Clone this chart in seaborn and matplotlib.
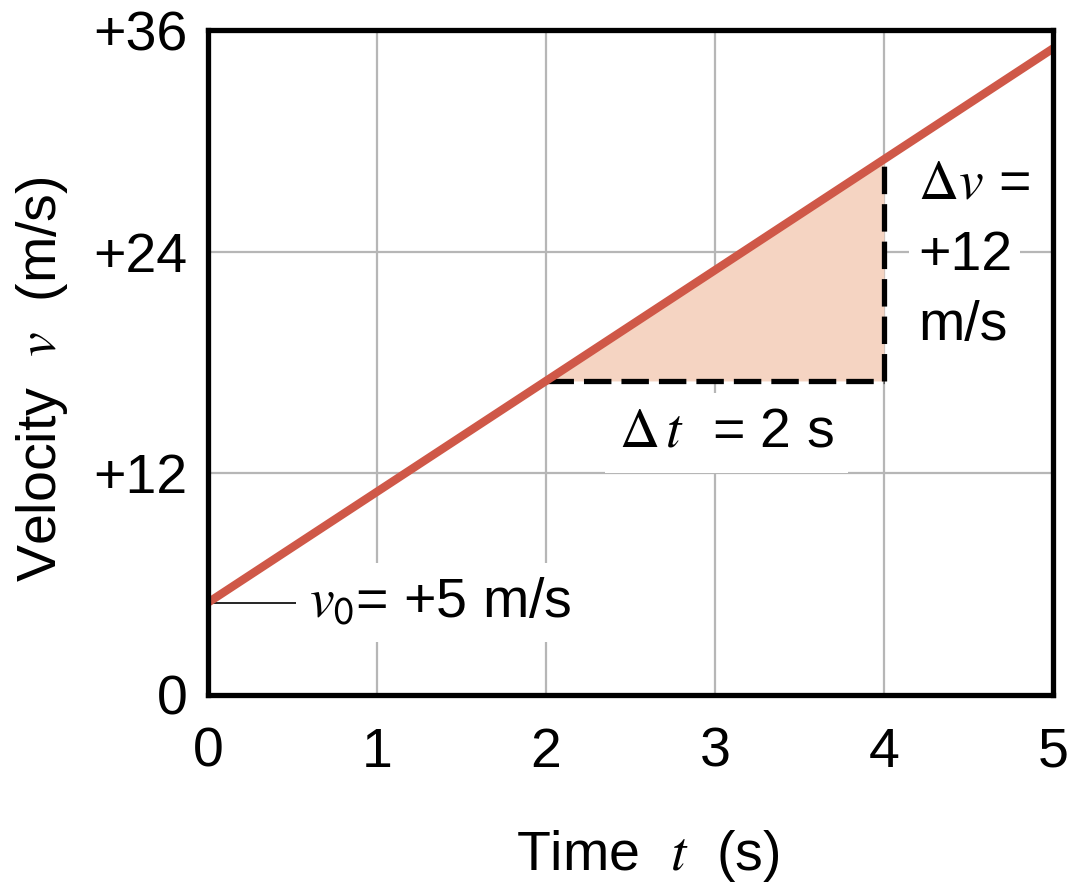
import matplotlib
matplotlib.use("Agg")
import matplotlib.pyplot as plt
import seaborn as sns

# Velocity–time data: v = v0 + a t with v0 = +5 m/s
time_s = [0, 5]
velocity_ms = [5, 35]

# Interval used to show the slope (acceleration)
interval_t = [2, 4]
interval_v = [17, 29]

x_ticks = [0, 1, 2, 3, 4, 5]
y_ticks = [0, 12, 24, 36]
y_tick_labels = ["0", "+12", "+24", "+36"]

line_color = "#cf5848"
fill_color = "#f5d4c2"
grid_color = "#b6b6b6"
FS = 40

sns.set_theme(style="white")
plt.rcParams["font.family"] = ["Liberation Sans", "DejaVu Sans"]
plt.rcParams["mathtext.fontset"] = "stix"
plt.rcParams["text.color"] = "black"
plt.rcParams["axes.labelcolor"] = "black"

fig = plt.figure(figsize=(10.71, 8.88), dpi=100)
ax = fig.add_axes([0.1942, 0.2174, 0.789, 0.7488])

# grid underneath everything
ax.set_axisbelow(True)
ax.grid(True, color=grid_color, linewidth=1.6)

# shaded triangle between the line and the horizontal leg
ax.fill_between(interval_t, [interval_v[0], interval_v[0]], interval_v,
                color=fill_color, linewidth=0, zorder=2)

# dashed legs of the triangle
ax.plot(interval_t, [interval_v[0], interval_v[0]], color="black", lw=3.8,
        dashes=(5.2, 1.9), zorder=3)
ax.plot([interval_t[1], interval_t[1]], interval_v, color="black", lw=3.8,
        dashes=(5.2, 1.9), zorder=3)

# velocity line
sns.lineplot(x=time_s, y=velocity_ms, ax=ax, color=line_color, linewidth=6,
             zorder=4)

ax.set_xlim(0, 5)
ax.set_ylim(0, 36)
ax.set_xticks(x_ticks)
ax.set_yticks(y_ticks)
ax.set_yticklabels(y_tick_labels)
ax.tick_params(axis="both", length=0, labelsize=FS, colors="black")
ax.tick_params(axis="x", pad=23)
ax.tick_params(axis="y", pad=15)

for sp in ax.spines.values():
    sp.set_visible(True)
    sp.set_color("black")
    sp.set_linewidth(3.8)
    sp.set_zorder(6)

ax.set_xlabel("Time  $t$  (s)", fontsize=FS)
ax.set_ylabel("Velocity  $v$  (m/s)", fontsize=FS)
ax.yaxis.set_label_coords(-0.163, 0.475)
ax.xaxis.set_label_coords(0.52, -0.2)

box = dict(boxstyle="square,pad=0.25", facecolor="white", edgecolor="none")

# initial velocity annotation with leader line
ax.plot([0, 0.53], [velocity_ms[0], velocity_ms[0]], color="black", lw=1.2,
        zorder=3)
ax.text(0.6, velocity_ms[0], r"$v_{\mathsf{0}}$= +5 m/s", fontsize=FS,
        ha="left", va="center", bbox=box, zorder=5)

# interval labels
ax.text(3.07, 14.2, r"$\Delta\,t$  = 2 s", fontsize=FS, ha="center",
        va="center", bbox=box, zorder=5)

ax.text(4.2, 26.9, r"$\Delta v$ =", fontsize=FS, ha="left", va="baseline",
        zorder=5)
ax.text(4.2, 23.0, "+12", fontsize=FS, ha="left", va="baseline",
        bbox=dict(boxstyle="square,pad=0.15", facecolor="white",
                  edgecolor="none"), zorder=5)
ax.text(4.2, 19.2, "m/s", fontsize=FS, ha="left", va="baseline", zorder=5)

fig.savefig("out.png", dpi=100, facecolor="white")
